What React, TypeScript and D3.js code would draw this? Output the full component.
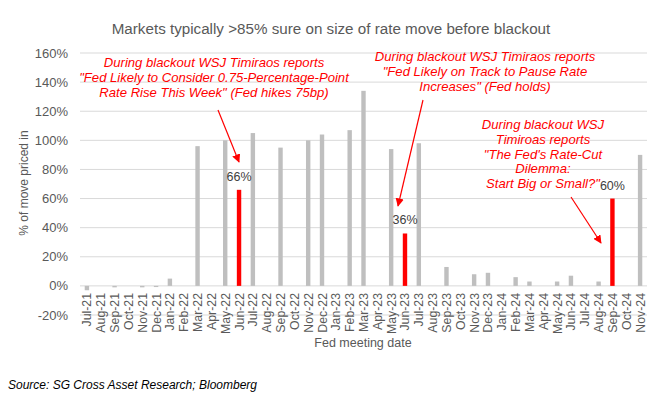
import React from 'react';
import * as d3 from 'd3';

const months = [
  'Jul-21', 'Aug-21', 'Sep-21', 'Oct-21', 'Nov-21', 'Dec-21',
  'Jan-22', 'Feb-22', 'Mar-22', 'Apr-22', 'May-22', 'Jun-22', 'Jul-22', 'Aug-22', 'Sep-22', 'Oct-22', 'Nov-22', 'Dec-22',
  'Jan-23', 'Feb-23', 'Mar-23', 'Apr-23', 'May-23', 'Jun-23', 'Jul-23', 'Aug-23', 'Sep-23', 'Oct-23', 'Nov-23', 'Dec-23',
  'Jan-24', 'Feb-24', 'Mar-24', 'Apr-24', 'May-24', 'Jun-24', 'Jul-24', 'Aug-24', 'Sep-24', 'Oct-24', 'Nov-24',
];

// % of move priced in before blackout (null = no meeting)
const pricedIn: (number | null)[] = [
  -3, null, -1, null, -1, -0.8,
  5, null, 96, null, 100, 66, 105, null, 95, null, 100, 104,
  null, 107, 134, null, 94, 36, 98, null, 13, null, 8, 9,
  null, 6, 3, null, 3, 7, null, 3, 60, null, 90,
];

const highlighted = ['Jun-22', 'Jun-23', 'Sep-24'];

const yTicks = [-20, 0, 20, 40, 60, 80, 100, 120, 140, 160];

const notes = [
  {
    lines: [
      'During blackout WSJ Timiraos reports',
      '"Fed Likely to Consider 0.75-Percentage-Point',
      'Rate Rise This Week" (Fed hikes 75bp)',
    ],
    cx: 214, top: 67, month: 'Jun-22', from: [218, 110], to: [239, 162],
  },
  {
    lines: [
      'During blackout WSJ Timiraos reports',
      '"Fed Likely on Track to Pause Rate',
      'Increases" (Fed holds)',
    ],
    cx: 485, top: 61, month: 'Jun-23', from: [423, 100], to: [398, 206],
  },
  {
    lines: [
      'During blackout WSJ',
      'Timiroas reports',
      '"The Fed\'s Rate-Cut',
      'Dilemma:',
      'Start Big or Small?"',
    ],
    cx: 543, top: 129, month: 'Sep-24', from: [571, 197], to: [601, 243],
  },
];

const W = 663;
const H = 399;
const font = '"Liberation Sans", Arial, sans-serif';
const grey = '#595959';

export default function App() {
  const x = d3.scaleBand<string>().domain(months).range([80, 647]);
  const y = d3.scaleLinear().domain([-20, 160]).range([315, 53]);
  const barW = 4.4;
  const lineH = 14.8;

  return (
    <svg width={W} height={H} style={{ position: 'absolute', left: 0, top: 0, background: '#fff' }}>
      <defs>
        <marker id="arr" viewBox="0 0 10 10" refX="9" refY="5" markerWidth="7" markerHeight="7" orient="auto">
          <path d="M0,0 L10,5 L0,10 z" fill="#ff0000" />
        </marker>
      </defs>

      <text x={331} y={34} textAnchor="middle" fontFamily={font} fontSize={15.2} fill={grey}>
        Markets typically &gt;85% sure on size of rate move before blackout
      </text>

      {yTicks.map(t => (
        <g key={t}>
          <line x1={80} x2={647} y1={y(t)} y2={y(t)} stroke="#d9d9d9" strokeWidth={1} />
          <text x={68} y={y(t) + 4.5} textAnchor="end" fontFamily={font} fontSize={13} fill={grey}>
            {t}%
          </text>
        </g>
      ))}

      <text
        transform={`translate(28,183) rotate(-90)`}
        textAnchor="middle"
        fontFamily={font}
        fontSize={12}
        fill={grey}
      >
        % of move priced in
      </text>

      {months.map((m, i) => {
        const v = pricedIn[i];
        if (v === null) return null;
        const cx = (x(m) as number) + x.bandwidth() / 2;
        const top = Math.min(y(v), y(0));
        const h = Math.abs(y(v) - y(0));
        return (
          <rect
            key={m}
            x={cx - barW / 2}
            y={top}
            width={barW}
            height={Math.max(h, 1)}
            fill={highlighted.includes(m) ? '#ff0000' : '#bfbfbf'}
          />
        );
      })}

      {months.map(m => {
        const cx = (x(m) as number) + x.bandwidth() / 2;
        return (
          <text
            key={m}
            transform={`translate(${cx + 4.5},293) rotate(-90)`}
            textAnchor="end"
            fontFamily={font}
            fontSize={12.3}
            fill={grey}
          >
            {m}
          </text>
        );
      })}

      <text x={363} y={347} textAnchor="middle" fontFamily={font} fontSize={12.5} fill={grey}>
        Fed meeting date
      </text>

      {notes.map((n, k) => {
        const i = months.indexOf(n.month);
        const v = pricedIn[i] as number;
        const cx = (x(n.month) as number) + x.bandwidth() / 2;
        return (
          <g key={k}>
            {n.lines.map((l, j) => (
              <text
                key={j}
                x={n.cx}
                y={n.top + j * lineH}
                textAnchor="middle"
                fontFamily={font}
                fontStyle="italic"
                fontSize={13.1}
                fill="#ff0000"
              >
                {l}
              </text>
            ))}
            <line
              x1={n.from[0]}
              y1={n.from[1]}
              x2={n.to[0]}
              y2={n.to[1]}
              stroke="#ff0000"
              strokeWidth={1.2}
              markerEnd="url(#arr)"
            />
            <text x={cx} y={y(v) - 9} textAnchor="middle" fontFamily={font} fontSize={12.5} fill="#404040">
              {v}%
            </text>
          </g>
        );
      })}

      <text x={8} y={389} fontFamily={font} fontStyle="italic" fontSize={12} fill="#000">
        Source: SG Cross Asset Research; Bloomberg
      </text>
    </svg>
  );
}
